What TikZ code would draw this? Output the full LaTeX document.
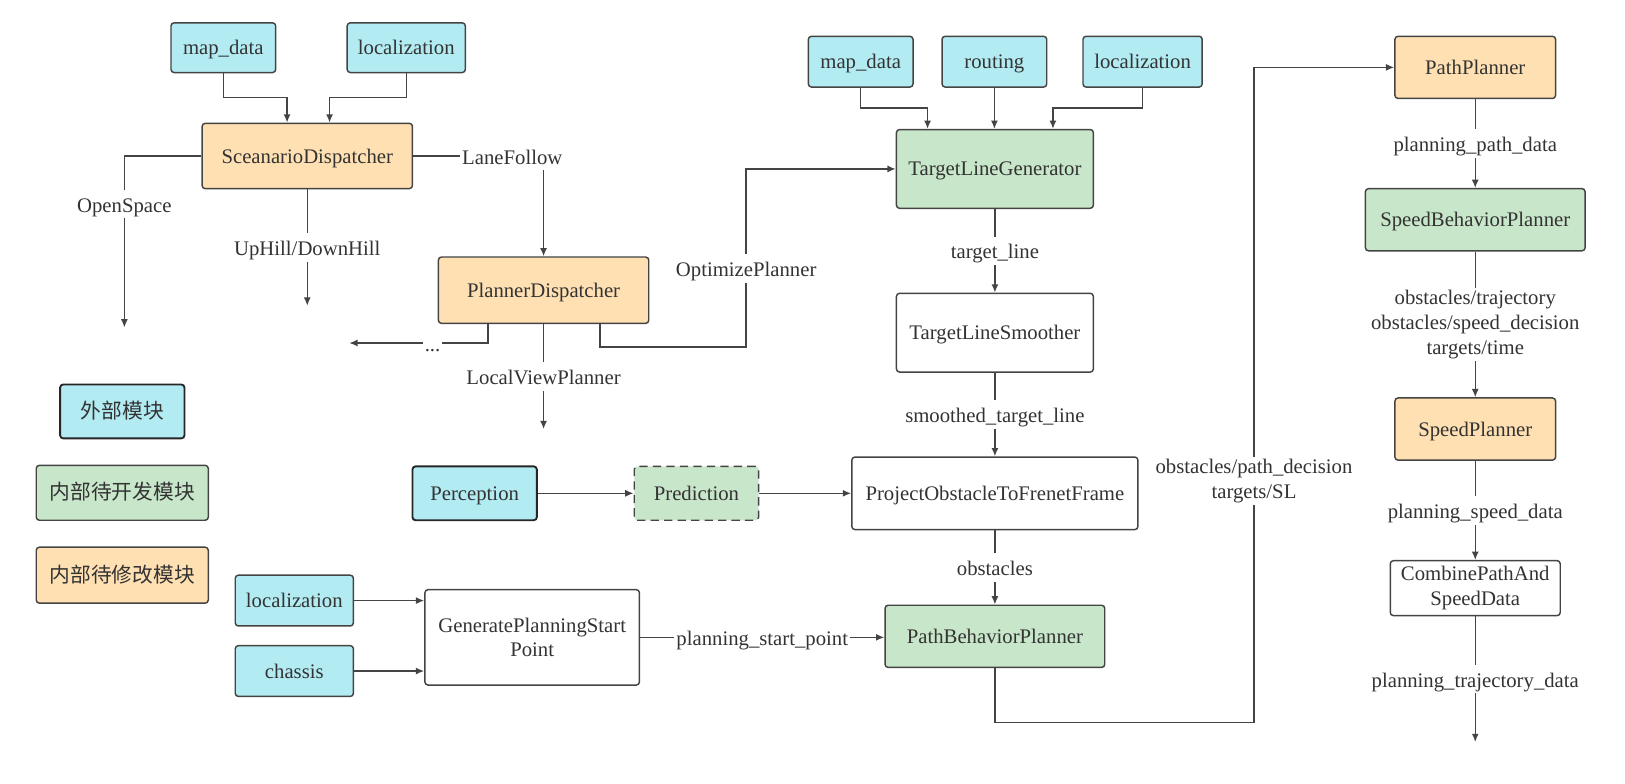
\documentclass[tikz,border=0pt]{standalone}
\usepackage{fontspec}
\setmainfont{Liberation Serif}
\newfontfamily\cjkfont{Noto Sans CJK SC}
\usetikzlibrary{arrows.meta,positioning}

\definecolor{extcyan}{HTML}{B2EBF2}
\definecolor{devgreen}{HTML}{C8E6C9}
\definecolor{modorange}{HTML}{FFE0B2}
\definecolor{linegray}{HTML}{444444}
\definecolor{txtgray}{HTML}{333333}

\tikzset{
  box/.style={draw=linegray, line width=0.7pt, rounded corners=1.5pt, inner sep=0pt, align=center, text=txtgray,
    text height=0.9em, text depth=0.22em},
  twolines/.style={text height=, text depth=},
  sz/.style 2 args={minimum width=#1*0.5pt, minimum height=#2*0.5pt},
  ext/.style={box, fill=extcyan},
  dev/.style={box, fill=devgreen},
  mod/.style={box, fill=modorange},
  plain/.style={box, fill=white},
  strong/.style={draw=black!85, line width=0.9pt},
  arr/.style={draw=linegray, line width=0.7pt, -{Latex[length=4pt,width=3.4pt]}},
  lblbox/.style={fill=white, inner sep=1pt, text=txtgray, align=center},
  lbl/.style={lblbox, text height=0.98em, text depth=0.2em}
}

\begin{document}
\begin{tikzpicture}[x=0.5pt, y=-0.5pt, font=\fontsize{10}{12}\selectfont]
    \useasboundingbox (0,0) rectangle (1568,756);

    % scenario part
    \node[ext, sz={101}{48}] (map1) at (215.5,46) {map\_data};
    \node[ext, sz={114}{48}] (loc1) at (392,46) {localization};
    \node[mod, sz={203}{63}] (sd) at (296.5,150.5) {SceanarioDispatcher};
    \node[mod, sz={203}{64}] (pd) at (524.5,280) {PlannerDispatcher};

    % target line part
    \node[ext, sz={101}{49}] (map2) at (830.5,59.5) {map\_data};
    \node[ext, sz={101}{49}] (rout) at (959.5,59.5) {routing};
    \node[ext, sz={115}{49}] (loc2) at (1102.5,59.5) {localization};
    \node[dev, sz={190}{76}] (tlg) at (960,163) {TargetLineGenerator};
    \node[plain, sz={190}{76}] (tls) at (960,321) {TargetLineSmoother};
    \node[plain, sz={276}{70}] (potff) at (960,476) {ProjectObstacleToFrenetFrame};
    \node[dev, sz={212}{60}] (pbp) at (960,614) {PathBehaviorPlanner};

    \node[ext, strong, sz={120}{52}] (perc) at (458,476) {Perception};
    \node[dev, dash pattern=on 4pt off 2.5pt, sz={120}{52}] (pred) at (672,476) {Prediction};

    \node[ext, sz={114}{49}] (loc3) at (284,579.5) {localization};
    \node[ext, sz={114}{49}] (chas) at (284,647.5) {chassis};
    \node[plain, twolines, sz={207}{92}] (gpsp) at (513.5,615) {GeneratePlanningStart\\Point};

    % path and speed part
    \node[mod, sz={155}{60}] (pp) at (1423.5,65) {PathPlanner};
    \node[dev, sz={212}{60}] (sbp) at (1423.5,212) {SpeedBehaviorPlanner};
    \node[mod, sz={155}{60}] (sp) at (1423.5,414) {SpeedPlanner};
    \node[plain, twolines, sz={164}{53}] (cpsd) at (1423.5,567.5) {CombinePathAnd\\SpeedData};

    % legend
    \node[ext, strong, sz={120}{52}] (leg1) at (118,397) {\cjkfont 外部模块};
    \node[dev, sz={166}{53}] (leg2) at (118,475.5) {\cjkfont 内部待开发模块};
    \node[mod, sz={166}{54}] (leg3) at (118,555) {\cjkfont 内部待修改模块};

    \coordinate (osend) at (120,316);
    \coordinate (uhend) at (296.5,295);
    \coordinate (dotsend) at (337,331);
    \coordinate (lvend) at (524.5,414);
    \coordinate (optbend) at (720,335);
    \coordinate (pbpbend) at (1210,697);
    \coordinate (trajend) at (1423.5,716);

    \draw[arr] (map1.south) |- ([xshift=-9.75pt,yshift=12pt]sd.north) -- ([xshift=-9.75pt]sd.north);
    \draw[arr] (loc1.south) |- ([xshift=10.75pt,yshift=12pt]sd.north) -- ([xshift=10.75pt]sd.north);
    \draw[arr] (sd.west) -| node[lbl,pos=0.64]{OpenSpace} (osend);
    \draw[arr] (sd.south) -- node[lbl]{UpHill/DownHill} (uhend);
    \draw[arr] (sd.east) -| node[lbl,pos=0.38]{LaneFollow} (pd.north);
    \draw[arr] ([xshift=-26.75pt]pd.south) |- node[lbl,pos=0.7]{...} (dotsend);
    \draw[arr] (pd.south) -- node[lbl]{LocalViewPlanner} (lvend);
    \draw[arr] ([xshift=27.25pt]pd.south) |- (optbend) |- node[lbl,pos=0.22]{OptimizePlanner} (tlg.west);

    \draw[arr] (map2.south) |- ([xshift=-32.5pt,yshift=10pt]tlg.north) -- ([xshift=-32.5pt]tlg.north);
    \draw[arr] (rout.south) -- (rout.south |- tlg.north);
    \draw[arr] (loc2.south) |- ([xshift=28pt,yshift=10pt]tlg.north) -- ([xshift=28pt]tlg.north);

    \foreach \from/\to/\lab in {tlg/tls/target\_line, tls/potff/smoothed\_target\_line, potff/pbp/obstacles, pp/sbp/planning\_path\_data, sp/cpsd/planning\_speed\_data}
        \draw[arr] (\from) -- node[lbl]{\lab} (\to);
    \draw[arr] (sbp) -- node[lblbox]{obstacles/trajectory\\obstacles/speed\_decision\\targets/time} (sp);
    \draw[arr] (cpsd) -- node[lbl]{planning\_trajectory\_data} (trajend);

    \draw[arr] (perc) -- (pred);
    \draw[arr] (pred) -- (potff);
    \draw[arr] (loc3.east) -- (loc3.east -| gpsp.west);
    \draw[arr] (chas.east) -- (chas.east -| gpsp.west);
    \draw[arr] (gpsp.east) -- node[lbl]{planning\_start\_point} (gpsp.east -| pbp.west);
    \draw[arr] (pbp.south) |- (pbpbend) |- node[lblbox,pos=0.184]{obstacles/path\_decision\\targets/SL} (pp.west);
\end{tikzpicture}
\end{document}
